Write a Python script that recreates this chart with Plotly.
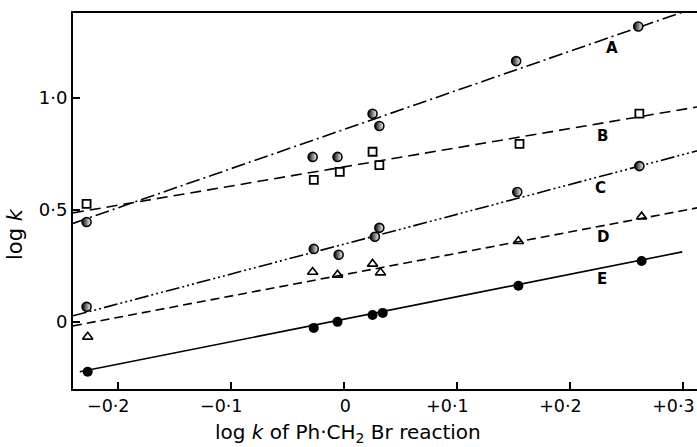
import numpy as np
import plotly.graph_objects as go

# ---- data ----
xA = [-0.228, -0.028, -0.006, 0.025, 0.031, 0.152, 0.260]
yA = [0.446, 0.737, 0.737, 0.930, 0.875, 1.165, 1.320]
xB = [-0.228, -0.027, -0.004, 0.025, 0.031, 0.155, 0.261]
yB = [0.527, 0.634, 0.670, 0.760, 0.700, 0.795, 0.930]
xC = [-0.228, -0.027, -0.005, 0.027, 0.031, 0.153, 0.261]
yC = [0.067, 0.326, 0.300, 0.380, 0.420, 0.580, 0.696]
xD = [-0.227, -0.028, -0.006, 0.025, 0.032, 0.154, 0.263]
yD = [-0.067, 0.223, 0.210, 0.259, 0.220, 0.360, 0.470]
xE = [-0.227, -0.027, -0.006, 0.025, 0.034, 0.154, 0.263]
yE = [-0.223, -0.027, 0.000, 0.031, 0.040, 0.161, 0.272]

# fitted lines: (x_start, y_start, slope, x_end)
line_names = ["A", "B", "C", "D", "E"]
line_x0 = [-0.24, -0.24, -0.24, -0.24, -0.234]
line_y0 = [0.440, 0.487, 0.027, -0.018, -0.223]
line_slope = [1.75, 0.857, 1.335, 0.955, 1.005]
line_x1 = [0.31, 0.32, 0.32, 0.32, 0.299]
line_dash = ["14px,4px,2px,4px", "11px,6px", "14px,3px,2px,3px,2px,3px,2px,3px", "9px,5px", "solid"]

label_x = [0.237, 0.228, 0.227, 0.229, 0.228]
label_y = [1.223, 0.830, 0.598, 0.379, 0.192]

xticks = [-0.2, -0.1, 0.0, 0.1, 0.2, 0.3]
xticktext = ["−0·2", "−0·1", "\u2007\u20070", "+0·1", "+0·2", "+0·3"]
yticks = [0.0, 0.5, 1.0]
yticktext = ["0", "0·5", "1·0"]

FONT = "DejaVu Sans"

fig = go.Figure()

for i, name in enumerate(line_names):
    xs = np.array([line_x0[i], line_x1[i]])
    ys = line_y0[i] + line_slope[i] * (xs - line_x0[i])
    fig.add_trace(go.Scatter(x=xs, y=ys, mode="lines",
                             line=dict(color="black", width=1.6, dash=line_dash[i]),
                             hoverinfo="skip", showlegend=False))

half = dict(symbol="circle", size=9, color="black",
            gradient=dict(type="horizontal", color="white"),
            line=dict(color="black", width=1.6))
fig.add_trace(go.Scatter(x=xA, y=yA, mode="markers", marker=half, showlegend=False))
fig.add_trace(go.Scatter(x=xC, y=yC, mode="markers", marker=half, showlegend=False))
fig.add_trace(go.Scatter(x=xB, y=yB, mode="markers",
                         marker=dict(symbol="square-open", size=8, color="black",
                                     line=dict(width=1.8)), showlegend=False))
fig.add_trace(go.Scatter(x=xD, y=yD, mode="markers",
                         marker=dict(symbol="triangle-up-open", size=9, color="black",
                                     line=dict(width=1.6)), showlegend=False))
fig.add_trace(go.Scatter(x=xE, y=yE, mode="markers",
                         marker=dict(symbol="circle", size=10, color="black"),
                         showlegend=False))

for i, name in enumerate(line_names):
    fig.add_annotation(x=label_x[i], y=label_y[i], text="<b>%s</b>" % name,
                       showarrow=False, font=dict(family=FONT, size=15, color="black"))

fig.update_layout(
    width=697, height=447,
    margin=dict(l=73, r=0, t=13, b=58, autoexpand=False),
    paper_bgcolor="white", plot_bgcolor="white",
    font=dict(family=FONT, size=17, color="black"),
    xaxis=dict(range=[-0.24, 0.312], tickvals=xticks, ticktext=xticktext,
               ticks="inside", ticklen=7, tickwidth=1.5, tickcolor="black",
               showline=True, linecolor="black", linewidth=2, mirror=True,
               showgrid=False, zeroline=False, automargin=False,
               ticklabeloverflow="allow", ticklabelshift=-10,
               tickfont=dict(family=FONT, size=17.5)),
    yaxis=dict(range=[-0.30, 1.38], tickvals=yticks, ticktext=yticktext,
               ticks="inside", ticklen=7, tickwidth=1.5, tickcolor="black",
               showline=True, linecolor="black", linewidth=2, mirror=False,
               showgrid=False, zeroline=False, automargin=False,
               tickfont=dict(family=FONT, size=18)),
)
fig.add_annotation(x=0.44, xref="paper", y=-0.117, yref="paper",
                   xanchor="center", yanchor="middle",
                   text="log <i>k</i> of Ph·CH<sub>2</sub> Br reaction",
                   showarrow=False, font=dict(family=FONT, size=20, color="black"))
fig.add_annotation(x=-0.093, xref="paper", y=0.412, yref="paper",
                   xanchor="center", yanchor="middle",
                   text="log <i>k</i>", textangle=-90, showarrow=False,
                   font=dict(family=FONT, size=21, color="black"))

fig.write_html("out.html", config={"displayModeBar": False},
               post_script="document.body.style.margin='0';document.body.style.overflow='hidden';")
